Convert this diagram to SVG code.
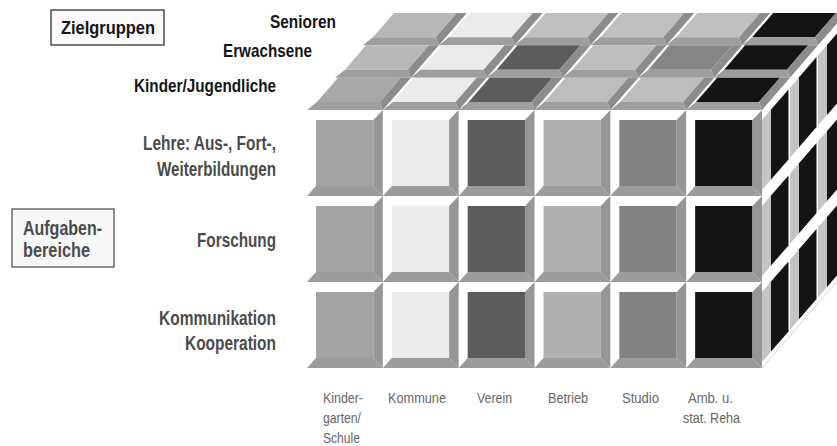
<svg xmlns="http://www.w3.org/2000/svg" xmlns:xlink="http://www.w3.org/1999/xlink" width="837" height="446" viewBox="0 0 837 446">
  <style>
    .lab { font-family: "Liberation Sans", Arial, sans-serif; }
    .head { font-weight: bold; font-size: 19px; fill: #151515; }
    .task { font-weight: bold; font-size: 20px; fill: #4c4c4c; }
    .setting { font-size: 14px; fill: #666666; }
    .box { stroke-width: 1.3; }
  </style>
  <defs>
    <!-- front cell: coloured face, white top/left bevel, grey right/bottom bevel -->
    <g id="front-cell">
      <rect x="9" y="10" width="57.33" height="66"/>
      <polygon points="66.33,10 75.83,0 75.83,86 66.33,76" fill="#969696"/>
      <polygon points="0,86 9,76 66.33,76 75.83,86" fill="#9c9c9c"/>
    </g>
    <!-- top tile in unskewed coordinates (75.83 wide, 32.33 deep) -->
    <g id="top-tile">
      <rect x="3" y="0" width="62.83" height="24.33"/>
      <polygon points="65.83,0 75.83,0 75.83,32.33 65.83,24.33" fill="#8c8c8c"/>
      <polygon points="0,32.33 3,24.33 65.83,24.33 75.83,32.33" fill="#9e9e9e"/>
    </g>
    <!-- side cell in unskewed coordinates (28 deep, 86 high) -->
    <g id="side-cell">
      <rect x="0" y="10" width="9" height="70" fill="#c4c4c4"/>
      <rect x="9" y="10" width="17.5" height="70" fill="#141414"/>
    </g>
  </defs>

  <!-- legend boxes -->
  <g id="zielgruppen-box">
    <rect class="box" x="51" y="10" width="113" height="35" fill="#fafafa" stroke="#333333"/>
    <text class="lab head" x="61" y="34" font-size="18" textLength="94" lengthAdjust="spacingAndGlyphs">Zielgruppen</text>
  </g>
  <g id="aufgabenbereiche-box">
    <rect class="box" x="12" y="209" width="102" height="58" fill="#f7f7f7" stroke="#555555"/>
    <text class="lab task" x="23" y="235" font-size="19" textLength="79" lengthAdjust="spacingAndGlyphs">Aufgaben-</text>
    <text class="lab task" x="23" y="257" font-size="19" textLength="67" lengthAdjust="spacingAndGlyphs">bereiche</text>
  </g>

  <!-- target group labels -->
  <g id="label-senioren"><text class="lab head" x="270" y="28" textLength="66" lengthAdjust="spacingAndGlyphs">Senioren</text></g>
  <g id="label-erwachsene"><text class="lab head" x="223" y="57" textLength="89" lengthAdjust="spacingAndGlyphs">Erwachsene</text></g>
  <g id="label-kinder"><text class="lab head" x="134" y="92" textLength="142" lengthAdjust="spacingAndGlyphs">Kinder/Jugendliche</text></g>

  <!-- task labels -->
  <g id="label-lehre">
    <text class="lab task" x="143" y="150" textLength="133" lengthAdjust="spacingAndGlyphs">Lehre: Aus-, Fort-,</text>
    <text class="lab task" x="157" y="176" textLength="119" lengthAdjust="spacingAndGlyphs">Weiterbildungen</text>
  </g>
  <g id="label-forschung"><text class="lab task" x="197" y="247" textLength="79" lengthAdjust="spacingAndGlyphs">Forschung</text></g>
  <g id="label-kommunikation">
    <text class="lab task" x="159" y="325" textLength="117" lengthAdjust="spacingAndGlyphs">Kommunikation</text>
    <text class="lab task" x="185" y="350" textLength="91" lengthAdjust="spacingAndGlyphs">Kooperation</text>
  </g>

  <!-- setting labels -->
  <g id="label-kindergarten">
    <text class="lab setting" x="323" y="403" textLength="40" lengthAdjust="spacingAndGlyphs">Kinder-</text>
    <text class="lab setting" x="323" y="423" textLength="38" lengthAdjust="spacingAndGlyphs">garten/</text>
    <text class="lab setting" x="323" y="443" textLength="37" lengthAdjust="spacingAndGlyphs">Schule</text>
  </g>
  <g id="label-kommune"><text class="lab setting" x="388" y="403" textLength="58" lengthAdjust="spacingAndGlyphs">Kommune</text></g>
  <g id="label-verein"><text class="lab setting" x="477" y="403" textLength="35" lengthAdjust="spacingAndGlyphs">Verein</text></g>
  <g id="label-betrieb"><text class="lab setting" x="548" y="403" textLength="40" lengthAdjust="spacingAndGlyphs">Betrieb</text></g>
  <g id="label-studio"><text class="lab setting" x="622" y="403" textLength="37" lengthAdjust="spacingAndGlyphs">Studio</text></g>
  <g id="label-reha">
    <text class="lab setting" x="688" y="403" textLength="45" lengthAdjust="spacingAndGlyphs">Amb. u.</text>
    <text class="lab setting" x="683" y="423" textLength="57" lengthAdjust="spacingAndGlyphs">stat. Reha</text>
  </g>

  <!-- cube: top face (back row first) -->
  <g id="top-face">
    <use href="#top-tile" transform="matrix(1 0 -0.866 1 391 13.01)" fill="#b8b8b8"/>
    <use href="#top-tile" transform="matrix(1 0 -0.866 1 466.83 13.01)" fill="#ebebeb"/>
    <use href="#top-tile" transform="matrix(1 0 -0.866 1 542.66 13.01)" fill="#c0c0c0"/>
    <use href="#top-tile" transform="matrix(1 0 -0.866 1 618.49 13.01)" fill="#c0c0c0"/>
    <use href="#top-tile" transform="matrix(1 0 -0.866 1 694.32 13.01)" fill="#c0c0c0"/>
    <use href="#top-tile" transform="matrix(1 0 -0.866 1 770.15 13.01)" fill="#141414"/>

    <use href="#top-tile" transform="matrix(1 0 -0.866 1 363 45.34)" fill="#b8b8b8"/>
    <use href="#top-tile" transform="matrix(1 0 -0.866 1 438.83 45.34)" fill="#ebebeb"/>
    <use href="#top-tile" transform="matrix(1 0 -0.866 1 514.66 45.34)" fill="#5c5c5c"/>
    <use href="#top-tile" transform="matrix(1 0 -0.866 1 590.49 45.34)" fill="#bdbdbd"/>
    <use href="#top-tile" transform="matrix(1 0 -0.866 1 666.32 45.34)" fill="#858585"/>
    <use href="#top-tile" transform="matrix(1 0 -0.866 1 742.15 45.34)" fill="#141414"/>

    <use href="#top-tile" transform="matrix(1 0 -0.866 1 335 77.67)" fill="#a8a8a8"/>
    <use href="#top-tile" transform="matrix(1 0 -0.866 1 410.83 77.67)" fill="#ebebeb"/>
    <use href="#top-tile" transform="matrix(1 0 -0.866 1 486.66 77.67)" fill="#5c5c5c"/>
    <use href="#top-tile" transform="matrix(1 0 -0.866 1 562.49 77.67)" fill="#bdbdbd"/>
    <use href="#top-tile" transform="matrix(1 0 -0.866 1 638.32 77.67)" fill="#bdbdbd"/>
    <use href="#top-tile" transform="matrix(1 0 -0.866 1 714.15 77.67)" fill="#141414"/>
  </g>

  <!-- cube: right side face -->
  <g id="side-face">
    <use href="#side-cell" transform="matrix(1 -1.1547 0 1 818 45.34)"/>
    <use href="#side-cell" transform="matrix(1 -1.1547 0 1 818 131.34)"/>
    <use href="#side-cell" transform="matrix(1 -1.1547 0 1 818 217.34)"/>
    <use href="#side-cell" transform="matrix(1 -1.1547 0 1 790 77.67)"/>
    <use href="#side-cell" transform="matrix(1 -1.1547 0 1 790 163.67)"/>
    <use href="#side-cell" transform="matrix(1 -1.1547 0 1 790 249.67)"/>
    <use href="#side-cell" transform="matrix(1 -1.1547 0 1 762 110)"/>
    <use href="#side-cell" transform="matrix(1 -1.1547 0 1 762 196)"/>
    <use href="#side-cell" transform="matrix(1 -1.1547 0 1 762 282)"/>
    <line x1="762" y1="368" x2="846" y2="271" stroke="#c8c8c8" stroke-width="0.8"/>
  </g>

  <!-- cube: front face -->
  <g id="front-face">
    <use href="#front-cell" transform="translate(307 110)" fill="#a3a3a3"/>
    <use href="#front-cell" transform="translate(382.83 110)" fill="#ebebeb"/>
    <use href="#front-cell" transform="translate(458.66 110)" fill="#5c5c5c"/>
    <use href="#front-cell" transform="translate(534.49 110)" fill="#b0b0b0"/>
    <use href="#front-cell" transform="translate(610.32 110)" fill="#828282"/>
    <use href="#front-cell" transform="translate(686.15 110)" fill="#141414"/>

    <use href="#front-cell" transform="translate(307 196)" fill="#a3a3a3"/>
    <use href="#front-cell" transform="translate(382.83 196)" fill="#ebebeb"/>
    <use href="#front-cell" transform="translate(458.66 196)" fill="#5c5c5c"/>
    <use href="#front-cell" transform="translate(534.49 196)" fill="#b0b0b0"/>
    <use href="#front-cell" transform="translate(610.32 196)" fill="#828282"/>
    <use href="#front-cell" transform="translate(686.15 196)" fill="#141414"/>

    <use href="#front-cell" transform="translate(307 282)" fill="#a3a3a3"/>
    <use href="#front-cell" transform="translate(382.83 282)" fill="#ebebeb"/>
    <use href="#front-cell" transform="translate(458.66 282)" fill="#5c5c5c"/>
    <use href="#front-cell" transform="translate(534.49 282)" fill="#b0b0b0"/>
    <use href="#front-cell" transform="translate(610.32 282)" fill="#828282"/>
    <use href="#front-cell" transform="translate(686.15 282)" fill="#141414"/>
  </g>
</svg>
